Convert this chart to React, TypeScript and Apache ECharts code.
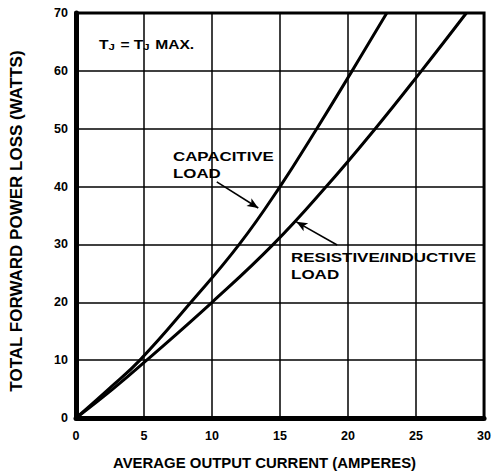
import React, { useEffect, useRef } from "react";
import * as echarts from "echarts";

const xTicks = [0, 5, 10, 15, 20, 25, 30];
const yTicks = [0, 10, 20, 30, 40, 50, 60, 70];

// Capacitive load: average output current (A) vs power loss (W)
const capCurrent = [0, 2.4, 4.7, 8.45, 12.0, 15.0, 17.7, 20.3, 22.85];
const capLoss = [0, 5, 10, 20, 30, 40, 50, 60, 70];

// Resistive/inductive load
const resCurrent = [0, 2.7, 5.2, 10.0, 14.5, 18.4, 22.0, 25.4, 28.7];
const resLoss = [0, 5, 10, 20, 30, 40, 50, 60, 70];

// annotation arrows in data coordinates [from, to]
const capArrow = [[10.35, 40.8], [13.4, 36.3]];
const resArrow = [[19.2, 29.9], [16.2, 33.9]];

const FONT = "Liberation Sans, Arial, Helvetica, sans-serif";

export default function App() {
  const ref = useRef<HTMLDivElement>(null);
  useEffect(() => {
    if (!ref.current) return;
    const chart = echarts.init(ref.current, undefined, { renderer: "svg" });
    const pair = (xs: number[], ys: number[]) => xs.map((x, i) => [x, ys[i]]);
    const arrowLine = (a: number[][]) => ({
      silent: true,
      symbol: ["none", "arrow"],
      symbolSize: [7, 11],
      label: { show: false },
      lineStyle: { color: "#000", width: 1.6, type: "solid" },
      data: [[{ coord: a[0] }, { coord: a[1] }]],
    });
    const annot = { fontFamily: FONT, fontWeight: "bold", fontSize: 13.5, lineHeight: 17, fill: "#000" };
    chart.setOption({
      animation: false,
      backgroundColor: "#fff",
      grid: {
        left: 76,
        right: 6,
        top: 13,
        bottom: 58,
        show: true,
        borderColor: "#000",
        borderWidth: 3,
        backgroundColor: "transparent",
      },
      xAxis: {
        type: "value",
        min: 0,
        max: 30,
        interval: 5,
        axisLine: { show: true, lineStyle: { color: "#000", width: 5 } },
        axisTick: { show: false },
        axisLabel: {
          color: "#000",
          fontFamily: FONT,
          fontWeight: "bold",
          fontSize: 12.5,
          margin: 11,
          formatter: (v: number) => (xTicks.includes(v) ? String(v) : ""),
        },
        splitLine: { show: true, lineStyle: { color: "#000", width: 1.5 } },
      },
      yAxis: {
        type: "value",
        min: 0,
        max: 70,
        interval: 10,
        axisLine: { show: true, lineStyle: { color: "#000", width: 5 } },
        axisTick: { show: false },
        axisLabel: {
          color: "#000",
          fontFamily: FONT,
          fontWeight: "bold",
          fontSize: 12.5,
          margin: 8,
          formatter: (v: number) => (yTicks.includes(v) ? String(v) : ""),
        },
        splitLine: { show: true, lineStyle: { color: "#000", width: 1.5 } },
      },
      series: [
        {
          name: "CAPACITIVE LOAD",
          type: "line",
          data: pair(capCurrent, capLoss),
          smooth: 0.45,
          symbol: "none",
          lineStyle: { color: "#000", width: 3 },
          clip: true,
          markLine: arrowLine(capArrow),
        },
        {
          name: "RESISTIVE/INDUCTIVE LOAD",
          type: "line",
          data: pair(resCurrent, resLoss),
          smooth: 0.45,
          symbol: "none",
          lineStyle: { color: "#000", width: 3 },
          clip: true,
          markLine: arrowLine(resArrow),
        },
      ],
      graphic: [
        {
          type: "text",
          x: 113,
          y: 456,
          scaleX: 1.03,
          style: {
            text: "AVERAGE OUTPUT CURRENT (AMPERES)",
            fontFamily: FONT,
            fontWeight: "bold",
            fontSize: 14.5,
            fill: "#000",
          },
        },
        {
          type: "text",
          x: 16,
          y: 221,
          rotation: Math.PI / 2,
          style: {
            text: "TOTAL FORWARD POWER LOSS (WATTS)",
            fontFamily: FONT,
            fontWeight: "bold",
            fontSize: 17,
            fill: "#000",
            align: "center",
            verticalAlign: "middle",
          },
        },
        {
          type: "text",
          x: 99,
          y: 36,
          scaleX: 1.2,
          style: {
            rich: {
              t: { fontFamily: FONT, fontWeight: "bold", fontSize: 13, fill: "#000", lineHeight: 16 },
              s: { fontFamily: FONT, fontWeight: "bold", fontSize: 9.5, fill: "#000", lineHeight: 16, padding: [6, 1, 0, 0] },
            },
            text: "{t|T}{s|J}{t| = T}{s|J}{t| MAX.}",
          },
        },
        {
          type: "text",
          x: 173,
          y: 148,
          scaleX: 1.25,
          style: { ...annot, text: "CAPACITIVE\nLOAD" },
        },
        {
          type: "text",
          x: 291,
          y: 249,
          scaleX: 1.26,
          style: { ...annot, text: "RESISTIVE/INDUCTIVE\nLOAD" },
        },
      ],
    });
    return () => chart.dispose();
  }, []);
  return (
    <div
      ref={ref}
      style={{ position: "absolute", left: 0, top: 0, width: 494, height: 476 }}
    />
  );
}
